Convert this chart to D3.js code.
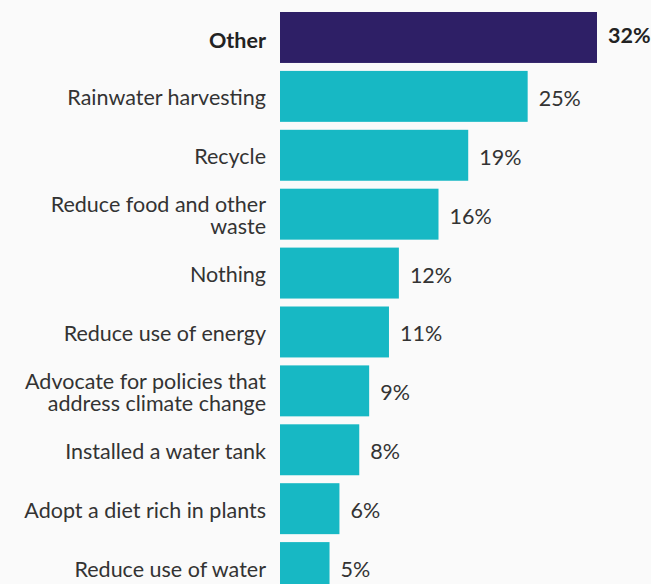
<!DOCTYPE html>
<html><head><meta charset="utf-8">
<script src="https://cdn.jsdelivr.net/npm/d3@7"></script>
<style>
html,body{margin:0;padding:0;background:#fafafa;}
svg{display:block;}
</style></head>
<body>
<script>
const categories = ["Other","Rainwater harvesting","Recycle","Reduce food and other|waste","Nothing","Reduce use of energy","Advocate for policies that|address climate change","Installed a water tank","Adopt a diet rich in plants","Reduce use of water"];
const values = [32,25,19,16,12,11,9,8,6,5];
const highlight = ["Other"];

const W = 651, H = 584;
const svg = d3.select("body").append("svg").attr("width", W).attr("height", H);
svg.append("rect").attr("width", W).attr("height", H).attr("fill", "#fafafa");

const x = d3.scaleLinear().domain([0, 32]).range([280, 597]);
const pad = 0.135, step = 58.9;
const y = d3.scaleBand().domain(categories)
  .range([12, 12 + step * (categories.length - pad)])
  .paddingInner(pad).paddingOuter(0);

const font = "Lato, 'Open Sans', sans-serif";
const fs = 21.5;
const rows = svg.selectAll("g.row").data(categories).enter().append("g");

rows.append("rect")
  .attr("x", x(0))
  .attr("y", d => y(d))
  .attr("width", (d, i) => x(values[i]) - x(0))
  .attr("height", y.bandwidth())
  .attr("fill", d => highlight.includes(d) ? "#2e1f66" : "#17b8c4");

rows.append("text")
  .attr("x", (d, i) => x(values[i]) + 11)
  .attr("y", d => y(d) + y.bandwidth() / 2 + (highlight.includes(d) ? -2 : 2))
  .attr("dy", "0.35em")
  .attr("font-family", font)
  .attr("font-size", fs)
  .attr("font-weight", d => highlight.includes(d) ? 700 : 400)
  .attr("fill", d => highlight.includes(d) ? "#222" : "#333")
  .text((d, i) => values[i] + "%");

rows.each(function(d) {
  const lines = d.split("|");
  const t = d3.select(this).append("text")
    .attr("x", 266)
    .attr("text-anchor", "end")
    .attr("font-family", font)
    .attr("font-size", fs)
    .attr("font-weight", highlight.includes(d) ? 700 : 400)
    .attr("fill", highlight.includes(d) ? "#222" : "#333");
  const cy = y(d) + y.bandwidth() / 2 + (highlight.includes(d) ? 3 : 1.5);
  const lh = 22;
  lines.forEach((ln, k) => {
    t.append("tspan").attr("x", 266)
      .attr("y", cy + (k - (lines.length - 1) / 2) * lh)
      .attr("dy", "0.35em").text(ln);
  });
});
</script>
</body></html>
